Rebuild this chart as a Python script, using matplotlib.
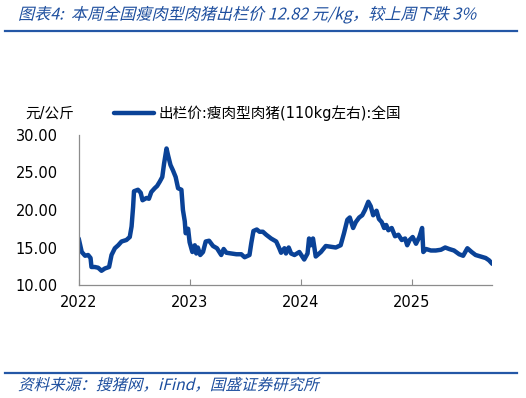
import matplotlib
matplotlib.use('Agg')
import matplotlib.pyplot as plt
import matplotlib.dates as mdates
from matplotlib.lines import Line2D
from matplotlib.patches import PathPatch
from matplotlib.textpath import TextPath
from matplotlib.font_manager import FontProperties
from matplotlib.transforms import Affine2D
import pandas as pd

plt.rcParams['font.family'] = ['DejaVu Sans', 'Noto Sans CJK SC']
plt.rcParams['axes.unicode_minus'] = False

# 出栏价:瘦肉型肉猪(110kg左右):全国, 元/公斤
fechas = [
    '2022-01-01', '2022-01-11', '2022-01-22', '2022-02-01', '2022-02-09', '2022-02-12',
    '2022-02-23', '2022-03-06', '2022-03-17', '2022-03-28', '2022-04-11', '2022-04-19',
    '2022-04-30', '2022-05-11', '2022-05-22', '2022-06-07', '2022-06-18', '2022-06-24',
    '2022-06-29', '2022-07-02', '2022-07-15', '2022-07-24', '2022-07-30', '2022-08-12',
    '2022-08-20', '2022-08-28', '2022-09-08', '2022-09-16', '2022-09-25', '2022-10-03',
    '2022-10-09', '2022-10-17', '2022-10-22', '2022-10-30', '2022-11-07', '2022-11-16',
    '2022-11-24', '2022-12-05', '2022-12-10', '2022-12-16', '2022-12-19', '2022-12-27',
    '2023-01-01', '2023-01-10', '2023-01-18', '2023-01-23', '2023-01-28', '2023-02-05',
    '2023-02-14', '2023-02-23', '2023-03-06', '2023-03-19', '2023-04-01', '2023-04-15',
    '2023-04-23', '2023-05-02', '2023-05-18', '2023-06-04', '2023-06-20', '2023-07-01',
    '2023-07-17', '2023-07-23', '2023-07-30', '2023-08-10', '2023-08-19', '2023-08-30',
    '2023-09-10', '2023-09-26', '2023-10-13', '2023-10-23', '2023-10-29', '2023-11-09',
    '2023-11-14', '2023-11-23', '2023-12-01', '2023-12-12', '2023-12-28', '2024-01-13',
    '2024-01-24', '2024-01-29', '2024-02-04', '2024-02-11', '2024-02-20', '2024-03-08',
    '2024-03-24', '2024-04-10', '2024-04-26', '2024-05-12', '2024-05-23', '2024-06-03',
    '2024-06-11', '2024-06-22', '2024-07-01', '2024-07-12', '2024-07-22', '2024-07-31',
    '2024-08-11', '2024-08-19', '2024-08-27', '2024-09-07', '2024-09-15', '2024-09-24',
    '2024-10-02', '2024-10-09', '2024-10-16', '2024-10-27', '2024-11-07', '2024-11-18',
    '2024-11-29', '2024-12-10', '2024-12-17', '2024-12-25', '2025-01-04', '2025-01-15',
    '2025-01-26', '2025-02-04', '2025-02-08', '2025-02-17', '2025-03-05', '2025-03-21',
    '2025-04-07', '2025-04-21', '2025-05-04', '2025-05-20', '2025-06-06', '2025-06-19',
    '2025-07-03', '2025-07-17', '2025-07-30', '2025-08-16', '2025-09-01', '2025-09-12',
    '2025-09-23',
]
precios = [
    16.2, 14.4, 13.9, 14.0, 13.6, 12.4,
    12.4, 12.3, 11.9, 12.2, 12.4, 14.0,
    14.9, 15.3, 15.8, 16.0, 16.4, 17.8,
    20.4, 22.5, 22.7, 22.3, 21.3, 21.6,
    21.5, 22.4, 22.9, 23.2, 23.8, 24.4,
    26.2, 28.2, 27.3, 26.0, 25.3, 24.4,
    22.9, 22.7, 20.0, 18.5, 16.9, 17.5,
    15.7, 14.4, 15.3, 14.2, 15.0, 14.0,
    14.4, 15.8, 15.9, 15.2, 14.9, 14.0,
    14.8, 14.3, 14.2, 14.1, 14.1, 13.7,
    14.0, 15.6, 17.2, 17.4, 17.1, 17.1,
    16.7, 16.2, 15.8, 14.9, 14.3, 14.9,
    14.2, 15.0, 14.2, 14.0, 14.4, 13.4,
    14.2, 16.2, 15.3, 16.2, 13.8, 14.4,
    15.2, 15.1, 15.0, 15.3, 16.9, 18.7,
    19.0, 17.6, 18.4, 19.0, 19.3, 20.0,
    21.1, 20.5, 19.3, 19.9, 18.8, 18.4,
    17.6, 18.0, 17.3, 17.6, 16.5, 16.7,
    16.0, 16.2, 15.3, 16.0, 16.4, 15.5,
    16.4, 17.6, 14.4, 14.8, 14.6, 14.6,
    14.7, 15.0, 14.8, 14.6, 14.1, 13.9,
    14.9, 14.4, 14.0, 13.8, 13.6, 13.3,
    12.82,
]
anios = ['2022', '2023', '2024', '2025']

titulo = '图表4:  本周全国瘦肉型肉猪出栏价 12.82 元/kg，较上周下跌 3%'
fuente = '资料来源：搜猪网，iFind，国盛证券研究所'
serie = '出栏价:瘦肉型肉猪(110kg左右):全国'
unidad = '元/公斤'

AZUL = '#0a4297'
AZUL_TXT = '#1d4e9e'
GRIS = '#8c8c8c'

fig = plt.figure(figsize=(5.26, 3.98), dpi=100)
W, H = 526, 398
ax = fig.add_axes([78.7 / W, 1 - 285 / H, (492.3 - 78.7) / W, 150 / H])

x = pd.to_datetime(fechas)
ax.plot(x, precios, color=AZUL, lw=3.2, solid_capstyle='round', solid_joinstyle='round')

ax.set_ylim(10, 30)
ax.set_yticks([10, 15, 20, 25, 30])
ax.set_yticklabels([f'{v:.2f}' for v in [10, 15, 20, 25, 30]])
ax.set_xlim(x[0], x[-1])
ax.set_xticks(pd.to_datetime([a + '-01-01' for a in anios]))
ax.xaxis.set_major_formatter(mdates.DateFormatter('%Y'))

for lado in ['top', 'right']:
    ax.spines[lado].set_visible(False)
for lado in ['left', 'bottom']:
    ax.spines[lado].set_color(GRIS)
    ax.spines[lado].set_linewidth(0.9)
ax.tick_params(axis='y', length=0, pad=15, labelsize=10.5, labelcolor='black')
ax.tick_params(axis='x', direction='in', length=4, color=GRIS, pad=7,
               labelsize=10.5, labelcolor='black')

# unidad y leyenda encima del eje
fig.text(25 / W, 1 - 113 / H, unidad, fontsize=10.5, va='center', ha='left')
fig.add_artist(Line2D([114 / W, 154 / W], [1 - 113 / H, 1 - 113 / H],
                      color=AZUL, lw=3.2, solid_capstyle='round'))
fig.text(158 / W, 1 - 113 / H, serie, fontsize=10.5, va='center', ha='left')

# título y fuente en cursiva (texto inclinado)
def texto_inclinado(txt, x_px, y_px, size):
    tp = TextPath((0, 0), txt, size=size, prop=FontProperties(family='Noto Sans CJK SC'))
    tr = (Affine2D().skew_deg(14, 0).scale(1 / 72)
          + Affine2D().translate(x_px / 100, (H - y_px) / 100) + fig.dpi_scale_trans)
    fig.add_artist(PathPatch(tp, transform=tr, facecolor=AZUL_TXT, edgecolor='none'))

texto_inclinado(titulo, 18, 19.5, 11.6)
texto_inclinado(fuente, 18, 390, 11.2)

fig.add_artist(Line2D([5 / W, 517 / W], [1 - 31 / H, 1 - 31 / H], color='#2457a6', lw=1.6))
fig.add_artist(Line2D([5 / W, 517 / W], [1 - 373 / H, 1 - 373 / H], color='#2457a6', lw=1.6))

plt.savefig('out.png', dpi=100, facecolor='white')
plt.close()
